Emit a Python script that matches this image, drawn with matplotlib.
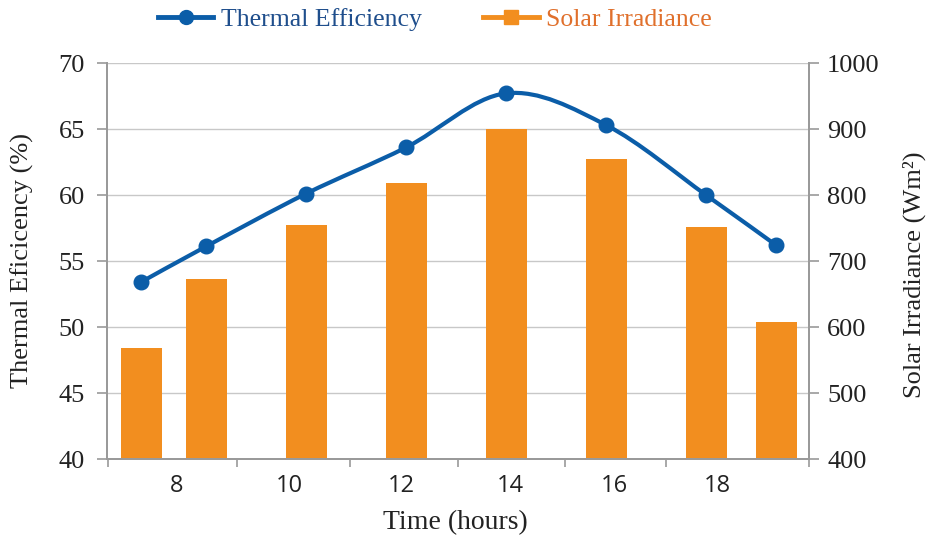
import matplotlib
matplotlib.use("Agg")
import matplotlib.pyplot as plt
from matplotlib.path import Path
from matplotlib.patches import PathPatch
from matplotlib.lines import Line2D
import numpy as np

# ---- data ----
hours = [6.7, 8, 10, 12, 14, 16, 18, 19.4]
efficiency = [53.4, 56.1, 60.1, 63.6, 67.7, 65.3, 60.0, 56.2]
irradiance = [568, 673, 755, 818, 900, 855, 752, 607]
tick_labels = ["8", "10", "12", "14", "16", "18"]

# ---- layout / style ----
label_pos = [7.42, 9.66, 11.9, 14.08, 16.16, 18.22]
mark_pos = [6.03, 8.62, 10.88, 13.04, 15.18, 17.2, 20.05]
BLUE = "#0B5DA8"
ORANGE = "#F28E1F"
BLUE_TXT = "#1F4E8C"
ORANGE_TXT = "#E0702C"
SPINE = "#9A9A9A"
GRID = "#C8C8C8"
SERIF = ["Liberation Serif", "DejaVu Serif"]
SANS = ["Open Sans", "DejaVu Sans"]

fig = plt.figure(figsize=(9.3, 5.43), dpi=100)
ax = fig.add_axes([107 / 930, 1 - 459 / 543, (809 - 107) / 930, (459 - 63) / 543])
ax2 = ax.twinx()

# bars on the secondary axis
ax2.bar(hours, irradiance, width=0.82, color=ORANGE, zorder=2)
ax2.set_ylim(400, 1000)
ax2.set_yticks(np.arange(400, 1001, 100))
ax2.set_axisbelow(True)
ax2.grid(axis="y", color=GRID, linewidth=1.0, zorder=0)

# smoothed line (Catmull-Rom style Bezier through the points) on primary axis
ax.set_zorder(ax2.get_zorder() + 1)
ax.patch.set_visible(False)
pts = np.column_stack([hours, efficiency])
verts = [tuple(pts[0])]
codes = [Path.MOVETO]
n = len(pts)
for i in range(n - 1):
    p0 = pts[i - 1] if i > 0 else pts[i]
    p1 = pts[i]
    p2 = pts[i + 1]
    p3 = pts[i + 2] if i + 2 < n else pts[i + 1]
    c1 = p1 + (p2 - p0) / 6.0
    c2 = p2 - (p3 - p1) / 6.0
    verts += [tuple(c1), tuple(c2), tuple(p2)]
    codes += [Path.CURVE4] * 3
ax.add_patch(PathPatch(Path(verts, codes), facecolor="none", edgecolor=BLUE,
                       linewidth=3.0, capstyle="round", zorder=3))
ax.plot(hours, efficiency, linestyle="none", marker="o", markersize=10.5,
        color=BLUE, zorder=4)

ax.set_ylim(40, 70)
ax.set_yticks(np.arange(40, 71, 5))
ax.set_xlim(6.02, 20.06)

# x ticks: labels without marks, marks at boundaries
ax.set_xticks(label_pos)
ax.set_xticklabels(tick_labels)
ax.set_xticks(mark_pos, minor=True)
ax.tick_params(axis="x", which="major", length=0, pad=11)
ax.tick_params(axis="x", which="minor", length=6, width=1.2, color=SPINE, direction="out")
ax.tick_params(axis="y", length=7, width=1.2, color=SPINE, pad=9, direction="out")
ax2.tick_params(axis="y", length=7, width=1.2, color=SPINE, pad=6, direction="out")

for lab in ax.get_xticklabels():
    lab.set_fontfamily(SANS)
    lab.set_fontsize(17)
    lab.set_color("#222222")
for lab in ax.get_yticklabels() + ax2.get_yticklabels():
    lab.set_fontfamily(SERIF)
    lab.set_fontsize(19)
    lab.set_color("#222222")

for a in (ax, ax2):
    for s in a.spines.values():
        s.set_color(SPINE)
        s.set_linewidth(1.4)
    a.spines["top"].set_visible(False)

fig.text(22 / 930, 1 - 260 / 543, "Thermal Eficicency (%)", rotation=90,
         ha="center", va="center", fontsize=19, family=SERIF, color="#222222")
fig.text(914 / 930, 1 - 275 / 543, "Solar Irradiance (Wm²)", rotation=90,
         ha="center", va="center", fontsize=19, family=SERIF, color="#222222")
fig.text(455 / 930, 1 - 523 / 543, "Time (hours)", ha="center", va="center",
         fontsize=20, family=SERIF, color="#222222")

handles = [
    Line2D([], [], color=BLUE, linewidth=3.5, marker="o", markersize=10),
    Line2D([], [], color=ORANGE, linewidth=3.5, marker="s", markersize=10),
]
leg = fig.legend(handles, ["Thermal Efficiency", "Solar Irradiance"],
                 loc="center", bbox_to_anchor=(435 / 930, 1 - 20 / 543),
                 ncol=2, frameon=False, prop={"family": SERIF, "size": 18.5},
                 handlelength=2.15, handletextpad=0.3, columnspacing=2.4,
                 labelcolor=[BLUE_TXT, ORANGE_TXT])

fig.savefig("out.png", dpi=100)
